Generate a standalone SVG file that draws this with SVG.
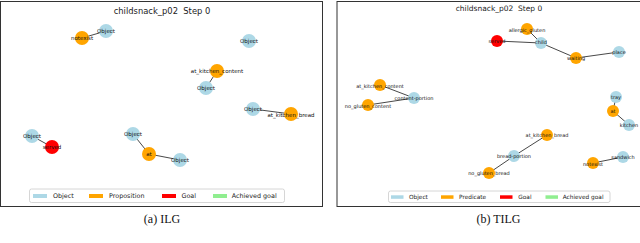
<svg xmlns="http://www.w3.org/2000/svg" width="640" height="243" viewBox="0 0 640 243">
<style>
.frame{fill:#fff;stroke:#333;stroke-width:1}
.title{font-family:"DejaVu Sans",sans-serif;fill:#222;text-anchor:middle;white-space:pre}
.e line{stroke:#333;stroke-width:0.9}
.obj{fill:#ADD8E6}
.prop{fill:#FFA500}
.goal{fill:#FF0000}
.ach{fill:#90EE90}
.lbl{font-family:"DejaVu Sans",sans-serif;fill:#111;text-anchor:middle;dominant-baseline:central}
.L .lbl{font-size:5.5px}
.R .lbl{font-size:5px}
.leg{fill:#fff;stroke:#ccc;stroke-width:0.8}
.legt{font-family:"DejaVu Sans",sans-serif;fill:#222}
.cap{font-family:"Liberation Serif",serif;font-size:12px;fill:#111;text-anchor:middle}
</style>

<!-- Left panel: ILG -->
<g id="panel-ilg" class="L">
  <rect class="frame" x="0.5" y="1.5" width="322" height="205"/>
  <text class="title" x="162" y="14" font-size="8.4">childsnack_p02  Step 0</text>
  <g id="ilg-edges" class="e">
    <line x1="82" y1="38" x2="106" y2="31"/>
    <line x1="217" y1="71" x2="206" y2="88"/>
    <line x1="253" y1="109" x2="291" y2="114"/>
    <line x1="32" y1="136" x2="52" y2="147"/>
    <line x1="133" y1="134" x2="149" y2="154"/>
    <line x1="149" y1="154" x2="180" y2="160"/>
  </g>
  <g id="ilg-n1"><circle class="prop" cx="82" cy="38" r="7"/><text class="lbl" x="82" y="38">notexist</text></g>
  <g id="ilg-n2"><circle class="obj" cx="106" cy="31" r="7"/><text class="lbl" x="106" y="31">Object</text></g>
  <g id="ilg-n3"><circle class="obj" cx="249" cy="41" r="7"/><text class="lbl" x="249" y="41">Object</text></g>
  <g id="ilg-n4"><circle class="prop" cx="217" cy="71" r="7"/><text class="lbl" x="217" y="71">at_kitchen_content</text></g>
  <g id="ilg-n5"><circle class="obj" cx="206" cy="88" r="7"/><text class="lbl" x="206" y="88">Object</text></g>
  <g id="ilg-n6"><circle class="obj" cx="253" cy="109" r="7"/><text class="lbl" x="253" y="109">Object</text></g>
  <g id="ilg-n7"><circle class="prop" cx="291" cy="114" r="7"/><text class="lbl" x="291" y="115">at_kitchen_bread</text></g>
  <g id="ilg-n8"><circle class="obj" cx="32" cy="136" r="7"/><text class="lbl" x="32" y="136">Object</text></g>
  <g id="ilg-n9"><circle class="goal" cx="52" cy="147" r="7"/><text class="lbl" x="52" y="147">served</text></g>
  <g id="ilg-n10"><circle class="obj" cx="133" cy="134" r="7"/><text class="lbl" x="133" y="134">Object</text></g>
  <g id="ilg-n11"><circle class="prop" cx="149" cy="154" r="7"/><text class="lbl" x="149" y="154">at</text></g>
  <g id="ilg-n12"><circle class="obj" cx="180" cy="160" r="7"/><text class="lbl" x="180" y="160">Object</text></g>
  <g id="ilg-legend">
    <rect class="leg" x="29.5" y="189" width="255" height="13.5" rx="2"/>
    <rect class="obj" x="33" y="194" width="14" height="4"/>
    <text class="legt" x="53" y="198.3" font-size="6.4">Object</text>
    <rect class="prop" x="89" y="194" width="14" height="4"/>
    <text class="legt" x="109" y="198.3" font-size="6.4">Proposition</text>
    <rect class="goal" x="162" y="194" width="14" height="4"/>
    <text class="legt" x="181.5" y="198.3" font-size="6.4">Goal</text>
    <rect class="ach" x="213" y="194" width="14" height="4"/>
    <text class="legt" x="231.7" y="198.3" font-size="6.4">Achieved goal</text>
  </g>
  <text class="cap" x="162" y="223">(a) ILG</text>
</g>

<!-- Right panel: TILG -->
<g id="panel-tilg" class="R">
  <rect class="frame" x="337" y="1.5" width="304" height="205"/>
  <text class="title" x="499" y="11" font-size="7.5">childsnack_p02  Step 0</text>
  <g id="tilg-edges" class="e">
    <line x1="497" y1="41" x2="541" y2="43"/>
    <line x1="527" y1="29" x2="541" y2="43"/>
    <line x1="541" y1="43" x2="576" y2="58"/>
    <line x1="576" y1="58" x2="619" y2="52"/>
    <line x1="380" y1="85" x2="414" y2="98"/>
    <line x1="368" y1="105" x2="414" y2="98"/>
    <line x1="616" y1="97" x2="613" y2="111"/>
    <line x1="613" y1="111" x2="629" y2="125"/>
    <line x1="547" y1="135" x2="514" y2="156"/>
    <line x1="514" y1="156" x2="489" y2="173"/>
    <line x1="593" y1="163" x2="623" y2="157"/>
  </g>
  <g id="tilg-allergic"><circle class="prop" cx="527" cy="29" r="6"/><text class="lbl" x="527" y="29.5">allergic_gluten</text></g>
  <g id="tilg-served"><circle class="goal" cx="497" cy="41" r="6"/><text class="lbl" x="497" y="41">served</text></g>
  <g id="tilg-child"><circle class="obj" cx="541" cy="43" r="6"/><text class="lbl" x="541" y="42">child</text></g>
  <g id="tilg-waiting"><circle class="prop" cx="576" cy="58" r="6"/><text class="lbl" x="576" y="58">waiting</text></g>
  <g id="tilg-place"><circle class="obj" cx="619" cy="52" r="6"/><text class="lbl" x="619" y="52">place</text></g>
  <g id="tilg-akc"><circle class="prop" cx="380" cy="85" r="6"/><text class="lbl" x="380" y="86">at_kitchen_content</text></g>
  <g id="tilg-cp"><circle class="obj" cx="414" cy="98" r="6"/><text class="lbl" x="414" y="98">content-portion</text></g>
  <g id="tilg-ngc"><circle class="prop" cx="368" cy="105" r="6"/><text class="lbl" x="368" y="106">no_gluten_content</text></g>
  <g id="tilg-tray"><circle class="obj" cx="616" cy="97" r="6"/><text class="lbl" x="616" y="97">tray</text></g>
  <g id="tilg-at"><circle class="prop" cx="613" cy="111" r="6"/><text class="lbl" x="613" y="111">at</text></g>
  <g id="tilg-kitchen"><circle class="obj" cx="629" cy="125" r="6"/><text class="lbl" x="629" y="125">kitchen</text></g>
  <g id="tilg-akb"><circle class="prop" cx="547" cy="135" r="6"/><text class="lbl" x="547" y="135">at_kitchen_bread</text></g>
  <g id="tilg-bp"><circle class="obj" cx="514" cy="156" r="6"/><text class="lbl" x="514" y="156">bread-portion</text></g>
  <g id="tilg-ngb"><circle class="prop" cx="489" cy="173" r="6"/><text class="lbl" x="489" y="173">no_gluten_bread</text></g>
  <g id="tilg-notexist"><circle class="prop" cx="593" cy="163" r="6"/><text class="lbl" x="593" y="163.5">notexist</text></g>
  <g id="tilg-sandwich"><circle class="obj" cx="623" cy="157" r="6"/><text class="lbl" x="623" y="157">sandwich</text></g>
  <g id="tilg-legend">
    <rect class="leg" x="388.5" y="191" width="221.5" height="11.5" rx="2"/>
    <rect class="obj" x="391" y="195.3" width="12.5" height="3.5"/>
    <text class="legt" x="409" y="199" font-size="5.8">Object</text>
    <rect class="prop" x="441" y="195.3" width="12.5" height="3.5"/>
    <text class="legt" x="459" y="199" font-size="5.8">Predicate</text>
    <rect class="goal" x="500" y="195.3" width="12.5" height="3.5"/>
    <text class="legt" x="518.3" y="199" font-size="5.8">Goal</text>
    <rect class="ach" x="545.5" y="195.3" width="12.5" height="3.5"/>
    <text class="legt" x="562.7" y="199" font-size="5.8">Achieved goal</text>
  </g>
  <text class="cap" x="498.5" y="223">(b) TILG</text>
</g>
</svg>
